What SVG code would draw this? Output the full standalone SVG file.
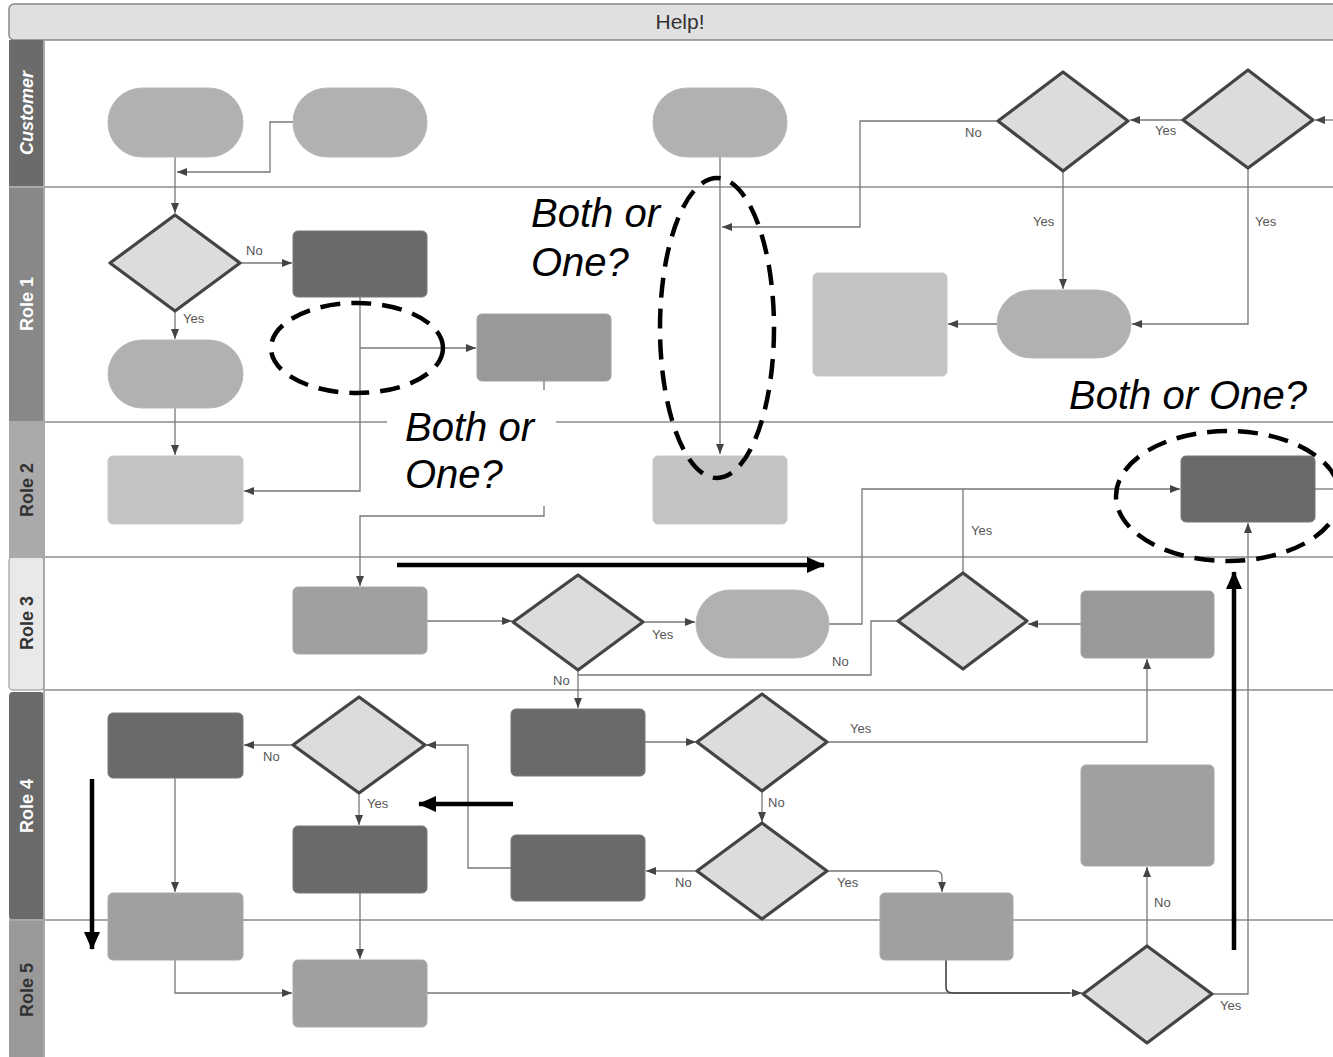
<svg xmlns="http://www.w3.org/2000/svg" width="1333" height="1057" viewBox="0 0 1333 1057">
<defs>
<style>
.lane{stroke:#a9a9a9;stroke-width:2;fill:none}
.c{fill:none;stroke:#777;stroke-width:1.3}
.ca{fill:none;stroke:#777;stroke-width:1.3;marker-end:url(#ah)}
.pill{fill:#b1b1b1;stroke:#b8b8b8;stroke-width:1}
.dk{fill:#6a6a6a;stroke:#777;stroke-width:1}
.md{fill:#a0a0a0;stroke:#a8a8a8;stroke-width:1}
.md2{fill:#999;stroke:#a2a2a2;stroke-width:1}
.lt{fill:#c3c3c3;stroke:#c8c8c8;stroke-width:1}
.dia{fill:#dcdcdc;stroke:#444;stroke-width:3.2;stroke-linejoin:round}
.yn{font-family:"Liberation Sans",Arial,sans-serif;font-size:13px;fill:#555}
.lbl{font-family:"Liberation Sans",Arial,sans-serif;font-size:18px;font-weight:bold}
.big{font-family:"Liberation Sans",Arial,sans-serif;font-size:40px;font-style:italic;fill:#000}
.ell{fill:none;stroke:#000;stroke-width:4.5;stroke-dasharray:20 11}
.bold{stroke:#000;stroke-width:4.5;fill:none}
</style>
<marker id="ah" viewBox="0 0 10 8" refX="10" refY="4" markerWidth="10" markerHeight="8" markerUnits="userSpaceOnUse" orient="auto">
<path d="M0,0 L10,4 L0,8 z" fill="#444"/>
</marker>
<marker id="bh" viewBox="0 0 18 16" refX="17" refY="8" markerWidth="18" markerHeight="16" markerUnits="userSpaceOnUse" orient="auto">
<path d="M0,0 L18,8 L0,16 z" fill="#000"/>
</marker>
</defs>
<rect width="1333" height="1057" fill="#fff"/>

<!-- pool header and lanes -->
<g id="pool">
<rect x="9" y="4" width="1340" height="36" rx="5" fill="#e0e0e0" stroke="#888" stroke-width="1.5"/>
<text x="680" y="29" text-anchor="middle" font-family="Liberation Sans, Arial, sans-serif" font-size="21" fill="#333">Help!</text>
<rect x="9" y="40" width="35" height="147" fill="#6b6b6b"/>
<rect x="9" y="187" width="35" height="235" fill="#888"/>
<rect x="9" y="422" width="35" height="135" fill="#aaa"/>
<rect x="9" y="557" width="35" height="133" rx="4" fill="#e9e9e9" stroke="#b0b0b0" stroke-width="1.5"/>
<rect x="9" y="692" width="35" height="228" rx="4" fill="#6a6a6a"/>
<rect x="9" y="920" width="35" height="140" fill="#999"/>
<line class="lane" x1="44" y1="40" x2="44" y2="1057"/>
<line class="lane" x1="9" y1="187" x2="1333" y2="187"/>
<line class="lane" x1="9" y1="422" x2="1333" y2="422"/>
<line class="lane" x1="9" y1="557" x2="1333" y2="557"/>
<line class="lane" x1="44" y1="690" x2="1333" y2="690"/>
<line class="lane" x1="9" y1="920" x2="1333" y2="920"/>
<text class="lbl" transform="translate(33,113) rotate(-90)" text-anchor="middle" fill="#fff" font-style="italic">Customer</text>
<text class="lbl" transform="translate(33,304) rotate(-90)" text-anchor="middle" fill="#fff">Role 1</text>
<text class="lbl" transform="translate(33,490) rotate(-90)" text-anchor="middle" fill="#333">Role 2</text>
<text class="lbl" transform="translate(33,623) rotate(-90)" text-anchor="middle" fill="#333">Role 3</text>
<text class="lbl" transform="translate(33,806) rotate(-90)" text-anchor="middle" fill="#fff">Role 4</text>
<text class="lbl" transform="translate(33,990) rotate(-90)" text-anchor="middle" fill="#333">Role 5</text>
</g>

<!-- connectors -->
<g id="connectors">
<path class="ca" d="M175,157 V213"/>
<path class="ca" d="M293,122 H270 V172 H177"/>
<path class="ca" d="M720,157 V454"/>
<path class="ca" d="M998,121 H860 V227 H722"/>
<path class="ca" d="M1183,120 H1130"/>
<path class="ca" d="M1333,120 H1315"/>
<path class="ca" d="M1063,171 V289"/>
<path class="ca" d="M1248,168 V324 H1132"/>
<path class="ca" d="M997,324 H948"/>
<path class="ca" d="M240,263 H292"/>
<path class="ca" d="M175,311 V339"/>
<path class="ca" d="M175,408 V455"/>
<path class="ca" d="M360,297 V491 H244"/>
<path class="ca" d="M360,348 H476"/>
<path class="ca" d="M544,381 V516 H360 V586"/>
<path class="ca" d="M427,621 H512"/>
<path class="ca" d="M643,622 H695"/>
<path class="ca" d="M829,624 H862 V489 H1180"/>
<path class="c" d="M963,573 V489"/>
<path class="c" d="M1315,489 H1333"/>
<path class="ca" d="M578,669 V708"/>
<path class="c" d="M898,621 H871 V675 H578"/>
<path class="ca" d="M1081,624 H1028"/>
<path class="ca" d="M827,742 H1147 V659"/>
<path class="ca" d="M645,742 H696"/>
<path class="ca" d="M762,791 V822"/>
<path class="ca" d="M697,871 H646"/>
<path class="ca" d="M511,868 H468 V745 H426"/>
<path class="ca" d="M293,745 H244"/>
<path class="ca" d="M359,793 V825"/>
<path class="ca" d="M360,893 V959"/>
<path class="ca" d="M175,778 V892"/>
<path class="ca" d="M827,871 H936 Q942,871 942,877 V892"/>
<path class="ca" d="M1147,945 V867"/>
<path class="ca" d="M175,960 V993 H292"/>
<path class="ca" d="M427,993 H1082"/>
<path d="M946,960 V987 Q946,993 952,993 H1070" fill="none" stroke="#444" stroke-width="1.6"/>
<path class="ca" d="M1212,994 H1248 V523"/>
</g>

<!-- connector labels -->
<g id="connector-labels">
<text class="yn" x="965" y="137">No</text>
<text class="yn" x="1155" y="135">Yes</text>
<text class="yn" x="1033" y="226">Yes</text>
<text class="yn" x="1255" y="226">Yes</text>
<text class="yn" x="246" y="255">No</text>
<text class="yn" x="183" y="323">Yes</text>
<text class="yn" x="652" y="639">Yes</text>
<text class="yn" x="553" y="685">No</text>
<text class="yn" x="832" y="666">No</text>
<text class="yn" x="971" y="535">Yes</text>
<text class="yn" x="850" y="733">Yes</text>
<text class="yn" x="768" y="807">No</text>
<text class="yn" x="675" y="887">No</text>
<text class="yn" x="837" y="887">Yes</text>
<text class="yn" x="263" y="761">No</text>
<text class="yn" x="367" y="808">Yes</text>
<text class="yn" x="1154" y="907">No</text>
<text class="yn" x="1220" y="1010">Yes</text>
</g>

<!-- Customer lane -->
<g id="pillA"><rect class="pill" x="108" y="88" width="135" height="69" rx="34"/></g>
<g id="pillB"><rect class="pill" x="293" y="88" width="134" height="69" rx="34"/></g>
<g id="pillC"><rect class="pill" x="653" y="88" width="134" height="69" rx="34"/></g>
<g id="d1"><polygon class="dia" points="1063,72 1128,121 1063,171 998,121"/></g>
<g id="d2"><polygon class="dia" points="1248,70 1313,120 1248,168 1183,120"/></g>

<!-- Role 1 -->
<g id="d3"><polygon class="dia" points="175,215 240,263 175,311 110,263"/></g>
<g id="r1"><rect class="dk" x="293" y="231" width="134" height="66" rx="5"/></g>
<g id="pillE"><rect class="pill" x="108" y="340" width="135" height="68" rx="34"/></g>
<g id="r2"><rect class="md2" x="477" y="314" width="134" height="67" rx="5"/></g>
<g id="r3"><rect class="lt" x="813" y="273" width="134" height="103" rx="5"/></g>
<g id="pillF"><rect class="pill" x="997" y="290" width="134" height="68" rx="34"/></g>

<!-- Role 2 -->
<g id="r4"><rect class="lt" x="108" y="456" width="135" height="68" rx="5"/></g>
<g id="r5"><rect class="lt" x="653" y="456" width="134" height="68" rx="5"/></g>
<g id="r6"><rect class="dk" x="1181" y="456" width="134" height="66" rx="5"/></g>

<!-- Role 3 -->
<g id="r7"><rect class="md" x="293" y="587" width="134" height="67" rx="5"/></g>
<g id="d4"><polygon class="dia" points="578,575 643,622 578,670 513,622"/></g>
<g id="pillG"><rect class="pill" x="696" y="590" width="133" height="68" rx="34"/></g>
<g id="d5"><polygon class="dia" points="963,573 1027,621 963,669 898,621"/></g>
<g id="r9"><rect class="md2" x="1081" y="591" width="133" height="67" rx="5"/></g>

<!-- Role 4 -->
<g id="r10"><rect class="dk" x="108" y="713" width="135" height="65" rx="5"/></g>
<g id="d7"><polygon class="dia" points="359,697 425,745 359,793 293,745"/></g>
<g id="r12"><rect class="dk" x="293" y="826" width="134" height="67" rx="5"/></g>
<g id="r8"><rect class="dk" x="511" y="709" width="134" height="67" rx="5"/></g>
<g id="d6"><polygon class="dia" points="762,694 827,742 762,791 697,742"/></g>
<g id="d8"><polygon class="dia" points="762,823 827,871 762,919 697,871"/></g>
<g id="r11"><rect class="dk" x="511" y="835" width="134" height="66" rx="5"/></g>
<g id="r16"><rect class="md" x="1081" y="765" width="133" height="101" rx="5"/></g>
<g id="r15"><rect class="md" x="880" y="893" width="133" height="67" rx="5"/></g>

<!-- Role 5 -->
<g id="r13"><rect class="md" x="108" y="893" width="135" height="67" rx="5"/></g>
<g id="r14"><rect class="md" x="293" y="960" width="134" height="67" rx="5"/></g>
<g id="d9"><polygon class="dia" points="1147,946 1212,994 1147,1043 1083,994"/></g>

<!-- annotations -->
<g id="annotations">
<rect x="387" y="390" width="169" height="116" fill="#fff"/>
<text class="big" x="405" y="441">Both or</text>
<text class="big" x="405" y="488">One?</text>
<text class="big" x="531" y="227">Both or</text>
<text class="big" x="531" y="276">One?</text>
<text class="big" x="1069" y="409">Both or One?</text>
<ellipse class="ell" cx="357" cy="348" rx="86" ry="45"/>
<ellipse class="ell" cx="717" cy="328" rx="57" ry="150"/>
<ellipse class="ell" cx="1228" cy="496" rx="112" ry="65"/>
<path class="bold" d="M397,565 H824" marker-end="url(#bh)"/>
<path class="bold" d="M513,804 H419" marker-end="url(#bh)"/>
<path class="bold" d="M92,779 V949" marker-end="url(#bh)"/>
<path class="bold" d="M1234,950 V572" marker-end="url(#bh)"/>
</g>
</svg>
